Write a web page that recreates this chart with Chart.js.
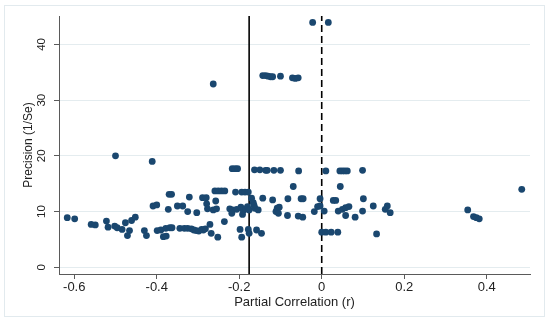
<!DOCTYPE html>
<html><head><meta charset="utf-8">
<script src="https://cdn.jsdelivr.net/npm/chart.js@4.4.1/dist/chart.umd.min.js"></script>
<style>html,body{margin:0;padding:0;background:#fff}</style>
</head><body>
<canvas id="c" width="550" height="322"></canvas>
<script>
// Partial correlation (r) of each estimate
const xValues = [
  -0.022, 0.016,
  -0.263,
  -0.143, -0.136, -0.130, -0.124, -0.119, -0.100,
  -0.071, -0.064, -0.057,
  -0.500, -0.411,
  -0.217, -0.210, -0.204,
  -0.163, -0.150, -0.136, -0.132, -0.116, -0.100,
  -0.056, 0.010, 0.044, 0.050, 0.056, 0.062, 0.099,
  -0.069, 0.045, 0.485,
  -0.259, -0.251, -0.243, -0.235,
  -0.209, -0.194, -0.186, -0.178,
  -0.370, -0.364,
  -0.321,
  -0.289, -0.280,
  -0.257,
  -0.170, -0.143, -0.119, -0.082, -0.050, -0.045, -0.004, 0.028, 0.034, 0.101,
  -0.409, -0.400,
  -0.372,
  -0.350, -0.337,
  -0.325,
  -0.303,
  -0.279, -0.277,
  -0.263, -0.255,
  -0.236,
  -0.223, -0.216, -0.218,
  -0.206, -0.196, -0.190, -0.192, -0.184, -0.180, -0.176,
  -0.166, -0.164, -0.162, -0.154,
  -0.111, -0.108, -0.105, -0.103,
  -0.083,
  -0.057, -0.046,
  -0.018, -0.010, -0.004, 0.006,
  0.040, 0.050, 0.058, 0.066, 0.058,
  0.081, 0.099, 0.125,
  0.154, 0.159, 0.166,
  0.354, 0.368, 0.375, 0.382,
  -0.617, -0.599,
  -0.559, -0.549,
  -0.522, -0.518,
  -0.502, -0.496, -0.484,
  -0.476, -0.471, -0.466, -0.461, -0.452,
  -0.430, -0.425,
  -0.399, -0.390, -0.384, -0.377, -0.378, -0.368, -0.363,
  -0.344, -0.333, -0.325, -0.316, -0.310, -0.304, -0.298, -0.291, -0.287, -0.282,
  -0.271,
  -0.268, -0.252,
  -0.198, -0.194,
  -0.178, -0.176,
  -0.158, -0.146,
  0.000, 0.010, 0.023, 0.039,
  0.133
];
// Precision (1/Se) of each estimate
const yValues = [
  43.95, 43.95,
  32.9,
  34.4, 34.4, 34.3, 34.2, 34.2, 34.3,
  34.0, 33.9, 34.0,
  20.0, 19.0,
  17.7, 17.7, 17.7,
  17.5, 17.5, 17.4, 17.4, 17.4, 17.4,
  17.3, 17.3, 17.3, 17.3, 17.3, 17.3, 17.4,
  14.5, 14.5, 14.0,
  13.7, 13.7, 13.7, 13.7,
  13.5, 13.5, 13.5, 13.5,
  13.1, 13.1,
  12.6,
  12.5, 12.5,
  11.9,
  12.4, 12.4, 12.1, 12.3, 12.3, 12.3, 12.3, 12.0, 12.0, 12.3,
  11.0, 11.2,
  10.4,
  11.0, 11.0,
  10.0,
  9.8,
  11.4, 10.5,
  10.3, 10.5,
  8.2,
  10.5, 10.3, 9.7,
  10.4, 10.8, 10.2, 9.5, 10.5, 10.9, 10.3,
  11.6, 11.1, 10.6, 10.3,
  10.0, 10.6, 9.7, 10.8,
  9.3,
  9.2, 9.0,
  10.0, 10.9, 11.0, 10.1,
  10.1, 10.4, 10.7, 10.9, 9.3,
  9.0, 10.1, 11.0,
  10.4, 11.0, 9.8,
  10.3, 9.1, 8.9, 8.7,
  8.9, 8.7,
  7.7, 7.6,
  8.3, 7.2,
  7.4, 7.1, 6.8,
  8.0, 5.7, 6.6, 8.4, 9.0,
  6.6, 5.7,
  6.6, 6.7, 5.5, 5.6, 7.0, 7.1, 7.1,
  7.0, 7.0, 7.0, 6.9, 6.7, 6.6, 6.5, 6.8, 6.7, 6.9,
  7.7,
  6.1, 5.4,
  6.8, 5.4,
  6.8, 6.1,
  6.7, 6.1,
  6.3, 6.3, 6.3, 6.3,
  6.0
];
const xTicks = [-0.6, -0.4, -0.2, 0, 0.2, 0.4];
const yTicks = [0, 10, 20, 30, 40];
const xRange = [-0.637, 0.505];
const yRange = [-1.2, 45.1];
const meanEffect = -0.176;   // solid reference line
const nullEffect = 0;        // dashed reference line
const xTitle = 'Partial Correlation (r)';
const yTitle = 'Precision (1/Se)';

const points = xValues.map((x, i) => ({x: x, y: yValues[i]}));

const framePlugin = {
  id: 'frame',
  beforeDraw(chart) {
    const ctx = chart.ctx;
    ctx.save();
    ctx.fillStyle = '#ffffff';
    ctx.fillRect(0, 0, chart.width, chart.height);
    ctx.strokeStyle = '#e2eaee';
    ctx.lineWidth = 1;
    ctx.strokeRect(4.5, 5.5, 540, 311);
    ctx.restore();
  }
};

const font = 'Liberation Sans, Arial, sans-serif';
const axisColor = '#5a5a5a';
const textColor = '#222222';

new Chart(document.getElementById('c'), {
  type: 'scatter',
  data: {
    datasets: [
      {
        type: 'scatter',
        data: points,
        backgroundColor: '#1a476f',
        borderColor: '#1a476f',
        borderWidth: 0,
        pointRadius: 3.4,
        pointHoverRadius: 3.4,
        order: 1
      },
      {
        type: 'line',
        data: [{x: meanEffect, y: yRange[0]}, {x: meanEffect, y: yRange[1]}],
        borderColor: '#000000',
        borderWidth: 1.6,
        pointRadius: 0,
        fill: false,
        order: 2
      },
      {
        type: 'line',
        data: [{x: nullEffect, y: yRange[0]}, {x: nullEffect, y: yRange[1]}],
        borderColor: '#000000',
        borderWidth: 1.6,
        borderDash: [7, 4],
        pointRadius: 0,
        fill: false,
        order: 2
      }
    ]
  },
  options: {
    responsive: false,
    animation: false,
    devicePixelRatio: 1,
    layout: {padding: {left: 0, right: 20, top: 16, bottom: 0}},
    plugins: {legend: {display: false}, tooltip: {enabled: false}},
    scales: {
      x: {
        type: 'linear',
        min: xRange[0],
        max: xRange[1],
        afterBuildTicks: s => { s.ticks = xTicks.map(v => ({value: v})); },
        afterFit: s => { s.height = 48; },
        ticks: {
          callback: v => (v === 0 ? '0' : Number(v).toFixed(1)),
          font: {family: font, size: 13},
          color: textColor,
          padding: 1,
          maxRotation: 0,
          autoSkip: false
        },
        grid: {display: true, drawOnChartArea: false, tickLength: 5, tickColor: axisColor},
        border: {display: true, color: axisColor, width: 1},
        title: {
          display: true, text: xTitle,
          font: {family: font, size: 13},
          color: textColor,
          padding: {top: 0, bottom: 12}
        }
      },
      y: {
        type: 'linear',
        min: yRange[0],
        max: yRange[1],
        afterBuildTicks: s => { s.ticks = yTicks.map(v => ({value: v})); },
        afterFit: s => { s.width = 59; },
        ticks: {
          callback: v => String(v),
          font: {family: font, size: 11.5},
          color: textColor,
          minRotation: 90,
          maxRotation: 90,
          crossAlign: 'center',
          padding: 6,
          autoSkip: false
        },
        grid: {display: true, color: '#e4ecef', lineWidth: 1, tickLength: 5, tickColor: axisColor},
        border: {display: true, color: axisColor, width: 1},
        title: {
          display: true, text: yTitle,
          font: {family: font, size: 12},
          color: textColor,
          padding: {top: 21, bottom: 0}
        }
      }
    }
  },
  plugins: [framePlugin]
});
</script>
</body></html>
